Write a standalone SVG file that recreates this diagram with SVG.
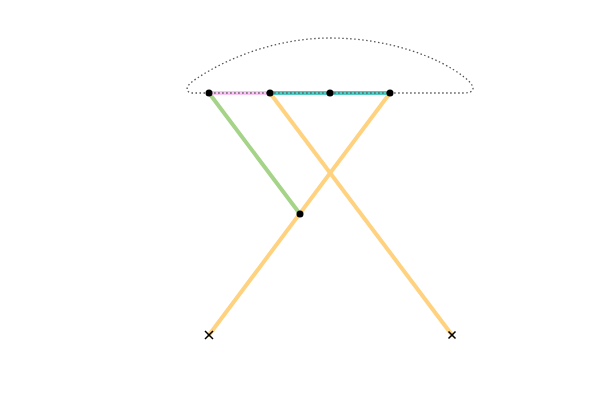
<svg xmlns="http://www.w3.org/2000/svg" width="600" height="400" viewBox="0 0 600 400">
<style>
.seg{fill:none;stroke-width:4;stroke-linecap:round}
.orange{stroke:#ffd280}
.green{stroke:#a5d488}
.pink{stroke:#f7c6f2}
.teal{stroke:#52c9c2}
.dot{fill:#000}
.cross{stroke:#000;stroke-width:1.5;fill:none}
.hull{fill:none;stroke:#555;stroke-width:1.3;stroke-dasharray:1.5 2.5}
</style>
<rect width="600" height="400" fill="#fff"/>
<g id="connectors">
<line class="seg orange" x1="270" y1="93" x2="452" y2="335"/>
<line class="seg orange" x1="390" y1="93" x2="209" y2="335"/>
<line class="seg green" x1="209" y1="93" x2="300" y2="214"/>
<line class="seg pink" x1="209" y1="93" x2="270" y2="93"/>
<line class="seg teal" x1="270" y1="93" x2="390" y2="93"/>
<path class="hull" d="M209,93 L192,93 C184,92 186,85 196,79 C230,56 280,38 330,38 C390,38 440,58 464,77 C476,86 476,93 464,93 Z"/>
</g>
<g id="n1"><circle class="dot" cx="209" cy="93" r="3.5"/></g>
<g id="n2"><circle class="dot" cx="270" cy="93" r="3.5"/></g>
<g id="n3"><circle class="dot" cx="330" cy="93" r="3.5"/></g>
<g id="n4"><circle class="dot" cx="390" cy="93" r="3.5"/></g>
<g id="n5"><circle class="dot" cx="300" cy="214" r="3.5"/></g>
<g id="x1"><path class="cross" d="M205,331 L213,339 M213,331 L205,339"/></g>
<g id="x2"><path class="cross" d="M448.5,331.5 L455.5,338.5 M455.5,331.5 L448.5,338.5"/></g>
</svg>
